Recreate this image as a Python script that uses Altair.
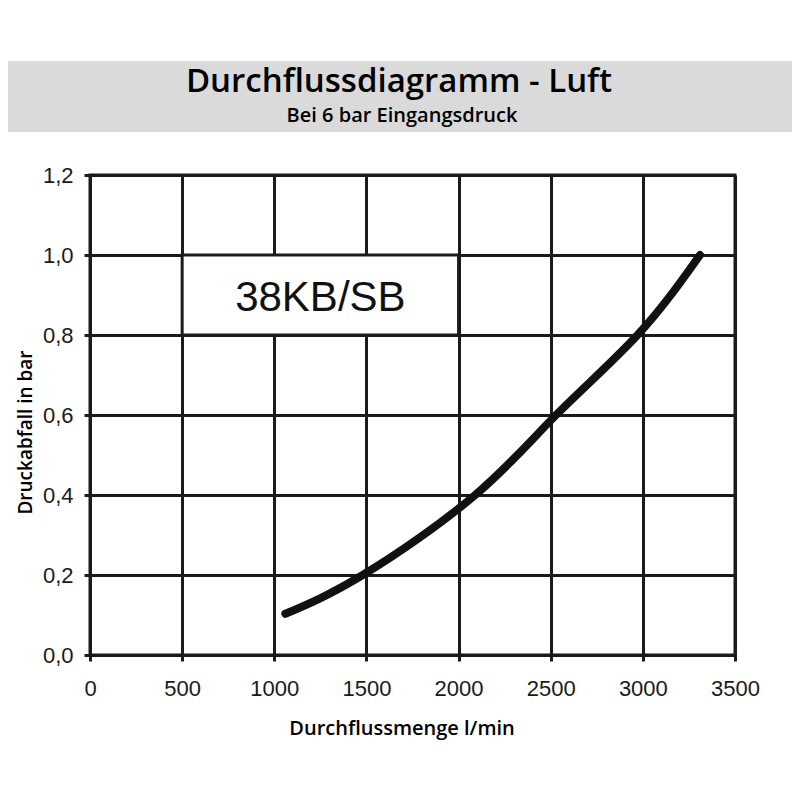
import altair as alt
import pandas as pd

# Data (curve crossings of the grid)
flow = [1060, 1480, 2090, 2529, 2971, 3310]
drop = [0.103, 0.2, 0.4, 0.6, 0.8, 1.0]

x_ticks = [0, 500, 1000, 1500, 2000, 2500, 3000, 3500]
y_ticks = [0.0, 0.2, 0.4, 0.6, 0.8, 1.0, 1.2]

title_text = "Durchflussdiagramm - Luft"
subtitle_text = "Bei 6 bar Eingangsdruck"
x_title = "Durchflussmenge l/min"
y_title = "Druckabfall in bar"
label_text = "38KB/SB"
label_box = {"x": [500], "x2": [2000], "y": [0.8], "y2": [1.0]}
label_pos = {"x": [1250], "y": [0.86], "t": [label_text]}

INK = "#1a1a1a"

df = pd.DataFrame({"flow": flow, "drop": drop})
one = pd.DataFrame({"a": [0]})
box_df = pd.DataFrame(label_box)
lab_df = pd.DataFrame(label_pos)

xs = alt.Scale(domain=[0, 3500], nice=False, zero=False)
ys = alt.Scale(domain=[0, 1.2], nice=False, zero=False)

x_axis = alt.Axis(
    values=x_ticks, format="d", title=x_title,
    titleFont="Open Sans", titleFontWeight=600, titleFontSize=20, titleColor="#000",
    titleX=311.5, titleY=79, titleBaseline="alphabetic", titleAlign="center",
    labelFont="Liberation Sans", labelFontSize=22, labelColor=INK, labelPadding=17,
    labelFlush=False,
)
y_axis = alt.Axis(
    values=y_ticks, labelExpr="replace(format(datum.value, '.1f'), '.', ',')",
    title=y_title,
    titleFont="Open Sans", titleFontWeight=600, titleFontSize=19, titleColor="#000",
    titleAngle=-90, titleX=-59, titleY=257, titleBaseline="alphabetic", titleAlign="center",
    labelFont="Liberation Sans", labelFontSize=22, labelColor=INK, labelPadding=11,
    labelFlush=False,
)

band = alt.Chart(one).mark_rect(color="#dadada").encode(
    x=alt.value(-90), x2=alt.value(730), y=alt.value(-114), y2=alt.value(-43)
)
title = alt.Chart(one).mark_text(
    text=title_text, font="Open Sans", fontWeight=600, fontSize=33, color="#000",
    align="center", baseline="alphabetic"
).encode(x=alt.value(309), y=alt.value(-83))
subtitle = alt.Chart(one).mark_text(
    text=subtitle_text, font="Open Sans", fontWeight=600, fontSize=20, color="#000",
    align="center", baseline="alphabetic"
).encode(x=alt.value(312), y=alt.value(-53))

line = alt.Chart(df).mark_line(
    color="#111111", strokeWidth=8, strokeCap="round", interpolate="natural"
).encode(
    x=alt.X("flow:Q", scale=xs, axis=x_axis),
    y=alt.Y("drop:Q", scale=ys, axis=y_axis),
)

box = alt.Chart(box_df).mark_rect(fill="white", stroke=INK, strokeWidth=3).encode(
    x="x:Q", x2="x2:Q", y="y:Q", y2="y2:Q"
)
lab = alt.Chart(lab_df).mark_text(
    font="Liberation Sans", fontSize=42, color="#111111", align="center", baseline="alphabetic"
).encode(x="x:Q", y="y:Q", text="t:N")

chart = alt.layer(band, title, subtitle, box, lab, line).properties(
    width=645, height=480,
    padding={"left": 82, "top": 167, "right": 57, "bottom": 125},
    autosize=alt.AutoSizeParams(type="none"),
).configure_axis(
    grid=True, gridColor=INK, gridWidth=3, gridOpacity=1,
    domainColor=INK, domainWidth=3,
    tickColor=INK, tickWidth=3, tickSize=6,
).configure_view(stroke=INK, strokeWidth=3)

chart.save("out.html", embed_options={"renderer": "svg", "actions": False})
